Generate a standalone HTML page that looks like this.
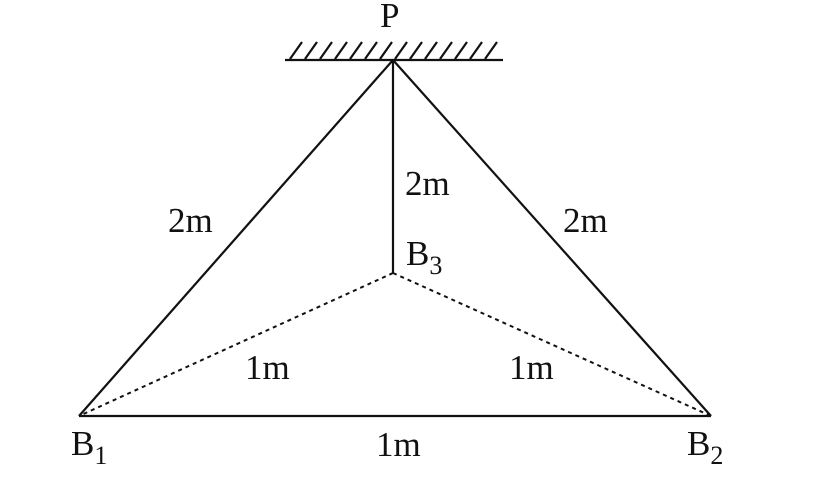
<!DOCTYPE html>
<html><head><style>body{margin:0;background:#fff}svg{display:block}text{font-family:"Liberation Serif",serif;fill:#111}</style></head>
<body>
<svg width="818" height="503" viewBox="0 0 818 503">
<g stroke="#111" stroke-width="2.2" fill="none">
<line x1="285" y1="60" x2="503" y2="60"/>
<g stroke-width="2.2">
<line x1="290" y1="59" x2="302" y2="42"/><line x1="305" y1="59" x2="317" y2="42"/><line x1="320" y1="59" x2="332" y2="42"/><line x1="335" y1="59" x2="347" y2="42"/><line x1="350" y1="59" x2="362" y2="42"/><line x1="365" y1="59" x2="377" y2="42"/><line x1="380" y1="59" x2="392" y2="42"/><line x1="395" y1="59" x2="407" y2="42"/><line x1="410" y1="59" x2="422" y2="42"/><line x1="425" y1="59" x2="437" y2="42"/><line x1="440" y1="59" x2="452" y2="42"/><line x1="455" y1="59" x2="467" y2="42"/><line x1="470" y1="59" x2="482" y2="42"/><line x1="485" y1="59" x2="497" y2="42"/>
</g>
<line x1="393" y1="60" x2="79" y2="416"/>
<line x1="393" y1="60" x2="711" y2="416"/>
<line x1="393" y1="60" x2="393" y2="273"/>
<line x1="79" y1="416" x2="711" y2="416"/>
<g stroke-dasharray="4,4" stroke-width="2">
<line x1="393" y1="273" x2="79" y2="416"/>
<line x1="393" y1="273" x2="711" y2="416"/>
</g>
</g>
<g font-size="35">
<text x="380" y="27">P</text>
<text x="168" y="232">2m</text>
<text x="563" y="232">2m</text>
<text x="405" y="195">2m</text>
<text x="406" y="265">B<tspan font-size="26" dy="9">3</tspan></text>
<text x="245" y="379">1m</text>
<text x="509" y="379">1m</text>
<text x="376" y="456">1m</text>
<text x="71" y="455">B<tspan font-size="26" dy="9">1</tspan></text>
<text x="687" y="455">B<tspan font-size="26" dy="9">2</tspan></text>
</g>
</svg>
</body></html>
